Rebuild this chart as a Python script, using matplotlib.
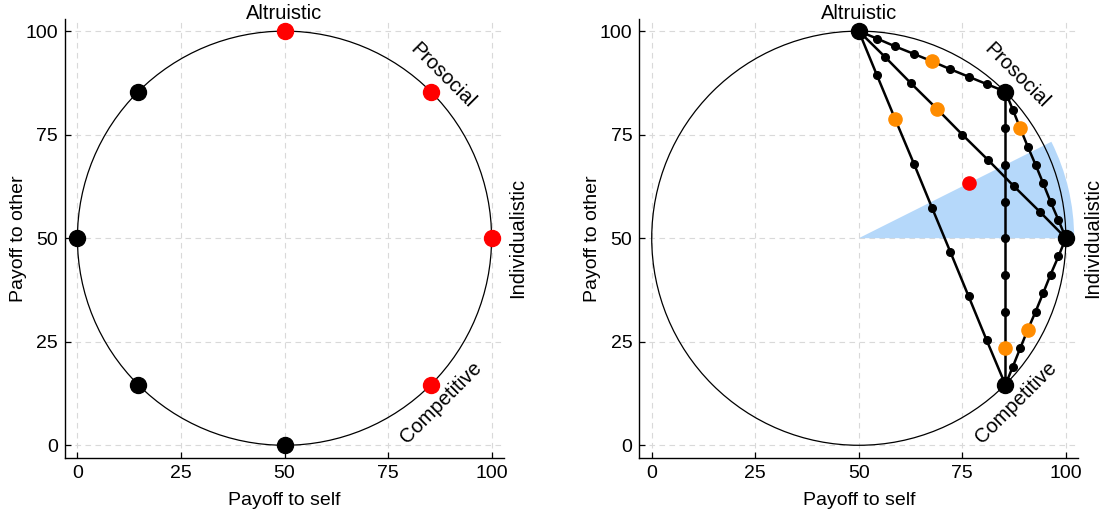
import matplotlib
matplotlib.use("Agg")
import matplotlib.pyplot as plt
from matplotlib.patches import Circle, Wedge

plt.rcParams['font.family'] = ['Liberation Sans', 'DejaVu Sans']

# ---------------- data ----------------
ticks = [0, 25, 50, 75, 100]
circle_center = (50, 50)
circle_radius = 50

# left panel: the eight points on the ring
red_x = [50, 85.4, 100, 85.4]
red_y = [100, 85.4, 50, 14.6]
black_x = [14.6, 0, 14.6, 50]
black_y = [85.4, 50, 14.6, 0]

# right panel: the four primary orientations (vertices)
vert_x = [50, 85.4, 100, 85.4]
vert_y = [100, 85.4, 50, 14.6]

# six slider items, 9 options each
item_x = [
    [50, 54.4, 58.8, 63.3, 67.7, 72.1, 76.5, 80.9, 85.4],   # Altruistic -> Prosocial
    [50, 56.3, 62.5, 68.8, 75, 81.3, 87.5, 93.8, 100],      # Altruistic -> Individualistic
    [50, 54.4, 58.8, 63.3, 67.7, 72.1, 76.5, 80.9, 85.4],   # Altruistic -> Competitive
    [85.4, 87.2, 89.0, 90.8, 92.7, 94.5, 96.3, 98.2, 100],  # Prosocial -> Individualistic
    [85.4, 85.4, 85.4, 85.4, 85.4, 85.4, 85.4, 85.4, 85.4], # Prosocial -> Competitive
    [100, 98.2, 96.3, 94.5, 92.7, 90.8, 89.0, 87.2, 85.4],  # Individualistic -> Competitive
]
item_y = [
    [100, 98.2, 96.3, 94.5, 92.7, 90.8, 89.0, 87.2, 85.4],
    [100, 93.8, 87.5, 81.3, 75, 68.8, 62.5, 56.3, 50],
    [100, 89.3, 78.7, 68.0, 57.3, 46.7, 36.0, 25.3, 14.6],
    [85.4, 81.0, 76.5, 72.1, 67.7, 63.3, 58.8, 54.4, 50],
    [85.4, 76.5, 67.7, 58.8, 50, 41.2, 32.3, 23.5, 14.6],
    [50, 45.6, 41.2, 36.7, 32.3, 27.9, 23.5, 19.0, 14.6],
]
# chosen options (orange)
choice_x = [67.7, 68.8, 58.8, 89.0, 85.4, 90.8]
choice_y = [92.7, 81.3, 78.7, 76.5, 23.5, 27.9]
# mean allocation (red)
mean_x = [76.6]
mean_y = [63.4]
# SVO angle wedge
wedge_angle = 26.6
wedge_radius = 52

labels = ["Altruistic", "Prosocial", "Individualistic", "Competitive"]
label_x = [50, 88.2, 106.4, 87.9]
label_y = [104.2, 89.3, 50, 10.2]
label_rot = [0, -45, 90, 45]

# ---------------- figure ----------------
W, H = 1107, 518
fig = plt.figure(figsize=(W / 100, H / 100), dpi=100)
axL = fig.add_axes([65 / W, 60.3 / H, 439 / W, 439 / H])
axR = fig.add_axes([639.3 / W, 60.3 / H, 439 / W, 439 / H])

FS = 14
for ax in (axL, axR):
    ax.set_xlim(-3, 103)
    ax.set_ylim(-3, 103)
    ax.set_xticks(ticks)
    ax.set_yticks(ticks)
    ax.tick_params(direction='in', length=4, width=0.9, labelsize=FS, pad=5, colors='black')
    for s in ('top', 'right'):
        ax.spines[s].set_visible(False)
    for s in ('left', 'bottom'):
        ax.spines[s].set_linewidth(1.0)
    ax.grid(True, color='#d9d9d9', linestyle=(0, (5, 4)), linewidth=0.8)
    ax.set_axisbelow(True)
    ax.set_xlabel("Payoff to self", fontsize=FS)
    ax.set_ylabel("Payoff to other", fontsize=FS)
    ax.xaxis.set_label_coords(0.5, -0.097)
    ax.yaxis.set_label_coords(-0.107, 0.5)
    ax.xaxis.label.set_va('center')
    ax.yaxis.label.set_va('center')
    ax.add_patch(Circle(circle_center, circle_radius, fill=False, edgecolor='black',
                        linewidth=0.9, zorder=2, clip_on=False))
    for t, x, y, r in zip(labels, label_x, label_y, label_rot):
        ax.text(x, y, t, rotation=r, ha='center', va='center', fontsize=14.5,
                rotation_mode='anchor', clip_on=False, zorder=6)

# left panel points
axL.plot(red_x, red_y, 'o', color='#ff0000', markersize=11.5, zorder=4, clip_on=False)
axL.plot(black_x, black_y, 'o', color='black', markersize=11.5, zorder=4, clip_on=False)

# right panel
axR.add_patch(Wedge(circle_center, wedge_radius, 0, wedge_angle, facecolor='#b5d8fa',
                    edgecolor='none', zorder=1.5))
for xs, ys in zip(item_x, item_y):
    axR.plot(xs, ys, '-', color='black', linewidth=1.8, zorder=3)
    axR.plot(xs, ys, 'o', color='black', markersize=5.5, zorder=3.5)
axR.plot(vert_x, vert_y, 'o', color='black', markersize=11.5, zorder=4, clip_on=False)
axR.plot(choice_x, choice_y, 'o', color='#ff8c00', markersize=9.5, zorder=5)
axR.plot(mean_x, mean_y, 'o', color='#ff0000', markersize=9.5, zorder=5)

fig.savefig("out.png", dpi=100)
